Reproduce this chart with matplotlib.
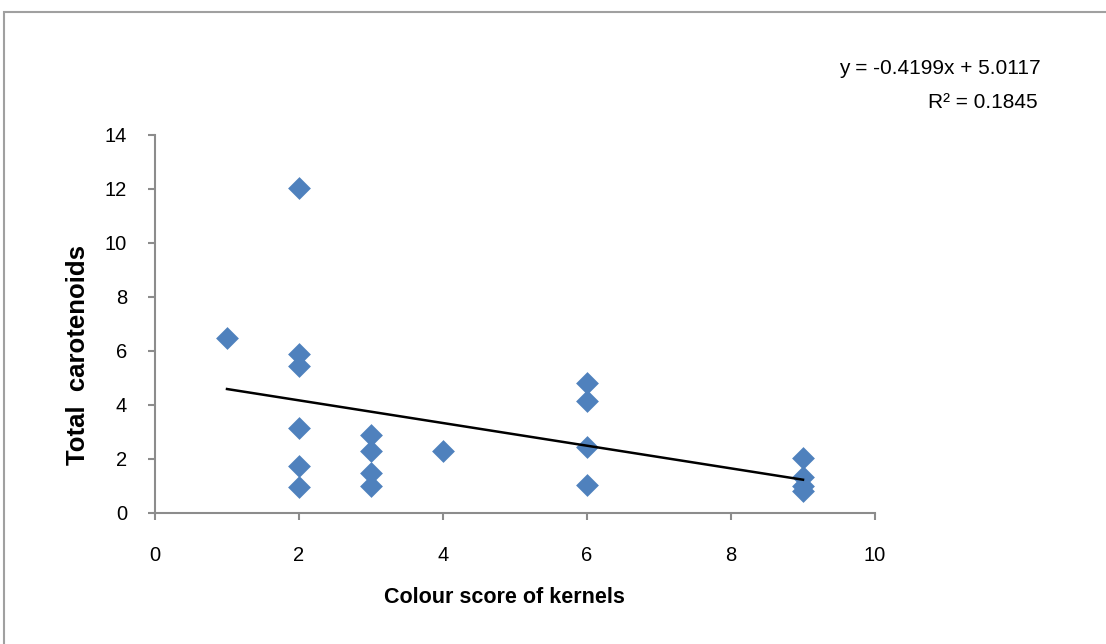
import matplotlib
matplotlib.use("Agg")
import matplotlib.pyplot as plt
from matplotlib.patches import Rectangle
import numpy as np

plt.rcParams['font.family'] = ['Liberation Sans', 'DejaVu Sans']

colour_score = [1, 2, 2, 2, 2, 2, 2, 3, 3, 3, 3, 4, 6, 6, 6, 6, 9, 9, 9, 9]
carotenoids = [6.5, 12.05, 5.9, 5.45, 3.15, 1.75, 0.95, 2.9, 2.3, 1.5, 1.0, 2.3, 4.8, 4.15, 2.45, 1.05, 2.05, 1.35, 1.0, 0.8]
slope, intercept = -0.4199, 5.0117
r_squared = 0.1845
x_ticks = [0, 2, 4, 6, 8, 10]
y_ticks = [0, 2, 4, 6, 8, 10, 12, 14]

W, H = 1106, 644
fig = plt.figure(figsize=(W / 100, H / 100), dpi=100)
fig.patches.append(Rectangle((4 / W, -0.1), 1.2, 1.1 - 12 / H,
                             transform=fig.transFigure, fill=False,
                             edgecolor='#a0a0a0', linewidth=1.5))
ax = fig.add_axes([155 / W, 1 - 513 / H, 720 / W, 378 / H])

ax.scatter(colour_score, carotenoids, marker='D', s=135, color='#4F81BD',
           zorder=3, linewidths=0)
xs = np.array([min(colour_score), max(colour_score)])
ax.plot(xs, slope * xs + intercept, color='black', linewidth=1.8, zorder=4)

ax.set_xlim(0, 10)
ax.set_ylim(0, 14)
ax.set_xticks(x_ticks)
ax.set_yticks(y_ticks)
for s in ['top', 'right']:
    ax.spines[s].set_visible(False)
for s in ['left', 'bottom']:
    ax.spines[s].set_color('#8c8c8c')
    ax.spines[s].set_linewidth(1.5)
ax.tick_params(axis='both', direction='out', length=5, width=1.5, color='#8c8c8c',
               labelsize=14.5, labelcolor='black')
ax.tick_params(axis='x', pad=19)
ax.tick_params(axis='y', pad=15)

ax.set_xlabel('Colour score of kernels', fontsize=15.5, fontweight='bold')
ax.xaxis.set_label_coords((504 - 155) / 720, (513 - 587) / 378)
ax.set_ylabel('Total  carotenoids', fontsize=18.5, fontweight='bold')
ax.yaxis.set_label_coords((90 - 155) / 720, (513 - 355) / 378)

fig.text(940 / W, 1 - 69 / H, f'y = {slope}x + {intercept}', fontsize=15,
         ha='center', va='center')
fig.text(983 / W, 1 - 103 / H, f'R² = {r_squared}', fontsize=15,
         ha='center', va='center')

fig.savefig('out.png', dpi=100)
